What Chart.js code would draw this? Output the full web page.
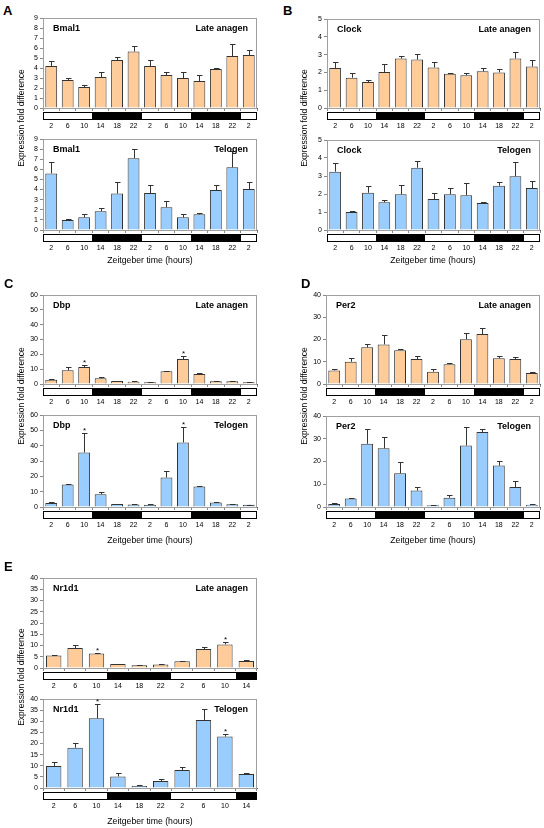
<!DOCTYPE html>
<html>
<head>
<meta charset="utf-8">
<script src="https://cdn.jsdelivr.net/npm/chart.js@4.4.1/dist/chart.umd.min.js"></script>
<style>
  body { margin: 0; background: #fff; width: 544px; height: 828px; position: relative; overflow: hidden;
         font-family: "Liberation Sans", Arial, sans-serif; }
  canvas { position: absolute; }
  .lbl { position: absolute; color: #000; white-space: nowrap; }
  .letter { font-weight: bold; font-size: 13px; }
  .ytitle { font-size: 8.5px; transform: translate(-50%, -50%) rotate(-90deg); }
  .xtitle { font-size: 8.7px; transform: translate(-50%, -50%); }
</style>
</head>
<body>
<script>
// x categories (Zeitgeber time)
const hours13 = ["2", "6", "10", "14", "18", "22", "2", "6", "10", "14", "18", "22", "2"];
const hours10 = ["2", "6", "10", "14", "18", "22", "2", "6", "10", "14"];
// 1 = dark phase in the light/dark bar
const dark13 = [0, 0, 0, 1, 1, 1, 0, 0, 0, 1, 1, 1, 0];
const dark10 = [0, 0, 0, 1, 1, 1, 0, 0, 0, 1];

// A - Bmal1
const bmal1Anagen    = [4.2, 2.8, 2.1, 3.1, 4.8, 5.65, 4.2, 3.3, 3.0, 2.7, 3.9, 5.2, 5.3];
const bmal1AnagenErr = [0.5, 0.25, 0.25, 0.5, 0.35, 0.55, 0.6, 0.35, 0.6, 0.6, 0.1, 1.2, 0.5];
const bmal1Telogen    = [5.6, 1.0, 1.25, 1.85, 3.6, 7.1, 3.65, 2.25, 1.25, 1.55, 3.95, 6.2, 4.05];
const bmal1TelogenErr = [1.1, 0.1, 0.3, 0.3, 1.15, 0.95, 0.8, 0.65, 0.35, 0.15, 0.5, 1.65, 0.65];

// B - Clock
const clockAnagen    = [2.25, 1.7, 1.46, 2.02, 2.78, 2.72, 2.28, 1.93, 1.84, 2.06, 2.0, 2.78, 2.33];
const clockAnagenErr = [0.32, 0.28, 0.12, 0.45, 0.15, 0.33, 0.3, 0.03, 0.12, 0.18, 0.17, 0.38, 0.34];
const clockTelogen    = [3.24, 1.0, 2.07, 1.54, 1.98, 3.46, 1.72, 1.98, 1.93, 1.5, 2.46, 2.98, 2.33];
const clockTelogenErr = [0.47, 0.07, 0.4, 0.12, 0.5, 0.36, 0.32, 0.34, 0.68, 0.08, 0.2, 0.8, 0.37];

// C - Dbp
const dbpAnagen    = [2.9, 9.2, 11.4, 3.8, 2.0, 1.6, 1.1, 8.6, 16.8, 6.7, 1.8, 1.8, 1.1];
const dbpAnagenErr = [0.7, 2.2, 1.6, 1.1, 0.2, 0.3, 0.2, 0.3, 2.2, 0.5, 0.1, 0.2, 0.2];
const dbpAnagenStar = [2, 8];
const dbpTelogen    = [2.6, 14.6, 35.6, 8.3, 2.0, 1.7, 1.4, 19.2, 42.1, 13.3, 3.0, 1.8, 1.4];
const dbpTelogenErr = [0.5, 0.5, 12.4, 1.5, 0.2, 0.2, 0.5, 4.4, 10.3, 0.7, 0.3, 0.2, 0.1];
const dbpTelogenStar = [2, 8];

// D - Per2
const per2Anagen    = [6.1, 10.0, 16.5, 17.8, 15.2, 11.2, 5.5, 8.9, 20.1, 22.5, 11.6, 11.2, 4.9];
const per2AnagenErr = [0.6, 1.5, 1.3, 4.2, 0.7, 1.3, 1.2, 0.5, 2.7, 2.8, 0.9, 0.8, 0.5];
const per2Telogen    = [1.3, 3.7, 27.8, 25.8, 14.8, 7.2, 0.8, 4.1, 27.0, 33.0, 18.2, 8.8, 1.0];
const per2TelogenErr = [0.5, 0.1, 6.6, 5.0, 5.1, 1.4, 0.2, 1.2, 8.2, 1.4, 2.2, 2.8, 0.3];

// E - Nr1d1
const nr1d1Anagen    = [5.6, 8.9, 6.5, 1.8, 1.2, 1.6, 3.0, 8.4, 10.5, 3.1];
const nr1d1AnagenErr = [0.3, 1.5, 0.3, 0.2, 0.2, 0.2, 0.2, 0.9, 1.2, 0.3];
const nr1d1AnagenStar = [2, 8];
const nr1d1Telogen    = [9.9, 18.1, 31.3, 5.2, 0.9, 3.1, 8.1, 30.6, 23.1, 6.3];
const nr1d1TelogenErr = [1.9, 2.1, 6.3, 1.5, 0.3, 0.9, 1.3, 4.9, 1.0, 0.3];
const nr1d1TelogenStar = [2, 8];

const anagenColor = "#FFCC99";
const telogenColor = "#99CCFF";
const font = "'Liberation Sans', Arial, sans-serif";

function addLabel(text, cls, x, y) {
    const d = document.createElement("div");
    d.className = "lbl " + cls;
    d.textContent = text;
    d.style.left = x + "px";
    d.style.top = y + "px";
    document.body.appendChild(d);
}

// one small bar chart; L,T,R,B = plot area in page pixels
function drawPanel(o) {
    const padL = 30, padT = 8, padR = 6, padB = 30;
    const cv = document.createElement("canvas");
    const w = o.R - o.L + padL + padR, h = o.B - o.T + padT + padB;
    cv.width = w; cv.height = h;
    cv.style.left = (o.L - padL) + "px";
    cv.style.top = (o.T - padT) + "px";
    document.body.appendChild(cv);

    const extras = {
        id: "extras",
        beforeDatasetsDraw(chart) {
            const a = chart.chartArea, ctx = chart.ctx;
            ctx.save();
            ctx.strokeStyle = "#a0a0a0";
            ctx.lineWidth = 1;
            ctx.strokeRect(Math.round(a.left) + 0.5, Math.round(a.top) + 0.5,
                           Math.round(a.right - a.left) - 1, Math.round(a.bottom - a.top));
            ctx.restore();
        },
        afterDatasetsDraw(chart) {
            const ctx = chart.ctx, y = chart.scales.y, x = chart.scales.x, a = chart.chartArea;
            const meta = chart.getDatasetMeta(0);
            ctx.save();
            ctx.strokeStyle = "#333";
            ctx.lineWidth = 1;
            meta.data.forEach((bar, i) => {
                const top = Math.round(y.getPixelForValue(o.values[i] + o.errors[i])) + 0.5;
                const bx = Math.round(bar.x) + 0.5;
                ctx.beginPath();
                ctx.moveTo(bx, bar.y);
                ctx.lineTo(bx, top);
                ctx.moveTo(bx - 2.5, top);
                ctx.lineTo(bx + 3, top);
                ctx.stroke();
                if (o.stars && o.stars.includes(i)) {
                    ctx.fillStyle = "#000";
                    ctx.font = "8px " + font;
                    ctx.textAlign = "center";
                    ctx.textBaseline = "alphabetic";
                    ctx.fillText("*", bx, top - 1);
                }
            });
            // light/dark bar, dark runs filled as one block each
            const n = o.labels.length;
            const cw = (a.right - a.left) / n;
            const by = Math.round(a.bottom) + 4;
            ctx.fillStyle = "#000";
            let i = 0;
            while (i < n) {
                if (o.dark[i]) {
                    let j = i;
                    while (j + 1 < n && o.dark[j + 1]) j++;
                    const x0 = Math.round(x.getPixelForValue(i) - cw / 2);
                    const x1 = Math.round(x.getPixelForValue(j) + cw / 2);
                    ctx.fillRect(x0, by, x1 - x0, 8);
                    i = j + 1;
                } else i++;
            }
            ctx.strokeStyle = "#000";
            ctx.strokeRect(Math.round(a.left) + 0.5, by + 0.5, Math.round(a.right - a.left) - 1, 7);
            // gene and stage names
            ctx.fillStyle = "#000";
            ctx.font = "bold 9px " + font;
            ctx.textBaseline = "middle";
            ctx.textAlign = "left";
            ctx.fillText(o.gene, a.left + 10, a.top + 11);
            ctx.textAlign = "right";
            ctx.fillText(o.stage, a.right - 9, a.top + 11);
            ctx.restore();
        }
    };

    new Chart(cv, {
        type: "bar",
        data: {
            labels: o.labels,
            datasets: [{
                data: o.values,
                backgroundColor: o.color,
                borderColor: "#333",
                borderWidth: 1,
                barPercentage: 0.72,
                categoryPercentage: 1
            }]
        },
        options: {
            responsive: false,
            animation: false,
            devicePixelRatio: 1,
            layout: { padding: { top: padT, right: padR, left: 0, bottom: 0 } },
            plugins: { legend: { display: false }, tooltip: { enabled: false } },
            scales: {
                x: {
                    offset: true,
                    grid: { offset: true, drawOnChartArea: false, tickLength: 3, color: "#888" },
                    border: { color: "#555" },
                    ticks: { font: { size: 7, family: font }, color: "#000", padding: 11,
                             maxRotation: 0, autoSkip: false },
                    afterFit: s => { s.height = padB; }
                },
                y: {
                    min: 0, max: o.max,
                    grid: { drawOnChartArea: false, tickLength: 3, color: "#888" },
                    border: { color: "#777" },
                    ticks: { stepSize: o.step, autoSkip: false, font: { size: 7, family: font },
                             color: "#000", padding: 2 },
                    afterFit: s => { s.width = padL; }
                }
            }
        },
        plugins: [extras]
    });
}

// panel A
drawPanel({ L: 43, T: 18, R: 257, B: 108, labels: hours13, dark: dark13, values: bmal1Anagen,
            errors: bmal1AnagenErr, max: 9, step: 1, color: anagenColor, gene: "Bmal1", stage: "Late anagen" });
drawPanel({ L: 43, T: 139, R: 257, B: 230, labels: hours13, dark: dark13, values: bmal1Telogen,
            errors: bmal1TelogenErr, max: 9, step: 1, color: telogenColor, gene: "Bmal1", stage: "Telogen" });
// panel B
drawPanel({ L: 327, T: 19, R: 540, B: 108, labels: hours13, dark: dark13, values: clockAnagen,
            errors: clockAnagenErr, max: 5, step: 1, color: anagenColor, gene: "Clock", stage: "Late anagen" });
drawPanel({ L: 327, T: 140, R: 540, B: 230, labels: hours13, dark: dark13, values: clockTelogen,
            errors: clockTelogenErr, max: 5, step: 1, color: telogenColor, gene: "Clock", stage: "Telogen" });
// panel C
drawPanel({ L: 43, T: 295, R: 257, B: 384, labels: hours13, dark: dark13, values: dbpAnagen,
            errors: dbpAnagenErr, stars: dbpAnagenStar, max: 60, step: 10, color: anagenColor, gene: "Dbp", stage: "Late anagen" });
drawPanel({ L: 43, T: 415, R: 257, B: 507, labels: hours13, dark: dark13, values: dbpTelogen,
            errors: dbpTelogenErr, stars: dbpTelogenStar, max: 60, step: 10, color: telogenColor, gene: "Dbp", stage: "Telogen" });
// panel D
drawPanel({ L: 326, T: 295, R: 540, B: 384, labels: hours13, dark: dark13, values: per2Anagen,
            errors: per2AnagenErr, max: 40, step: 10, color: anagenColor, gene: "Per2", stage: "Late anagen" });
drawPanel({ L: 326, T: 416, R: 540, B: 507, labels: hours13, dark: dark13, values: per2Telogen,
            errors: per2TelogenErr, max: 40, step: 10, color: telogenColor, gene: "Per2", stage: "Telogen" });
// panel E
drawPanel({ L: 43, T: 578, R: 257, B: 668, labels: hours10, dark: dark10, values: nr1d1Anagen,
            errors: nr1d1AnagenErr, stars: nr1d1AnagenStar, max: 40, step: 5, color: anagenColor, gene: "Nr1d1", stage: "Late anagen" });
drawPanel({ L: 43, T: 699, R: 257, B: 788, labels: hours10, dark: dark10, values: nr1d1Telogen,
            errors: nr1d1TelogenErr, stars: nr1d1TelogenStar, max: 40, step: 5, color: telogenColor, gene: "Nr1d1", stage: "Telogen" });

// panel letters
addLabel("A", "letter", 3, 3);
addLabel("B", "letter", 283, 3);
addLabel("C", "letter", 4, 276);
addLabel("D", "letter", 301, 276);
addLabel("E", "letter", 4, 559);

// axis titles
[[21, 118], [304, 118], [21, 396], [304, 396], [21, 677]].forEach(p =>
    addLabel("Expression fold difference", "ytitle", p[0], p[1]));
[[150, 260], [433, 260], [150, 540], [433, 540], [150, 821]].forEach(p =>
    addLabel("Zeitgeber time (hours)", "xtitle", p[0], p[1]));
</script>
</body>
</html>
